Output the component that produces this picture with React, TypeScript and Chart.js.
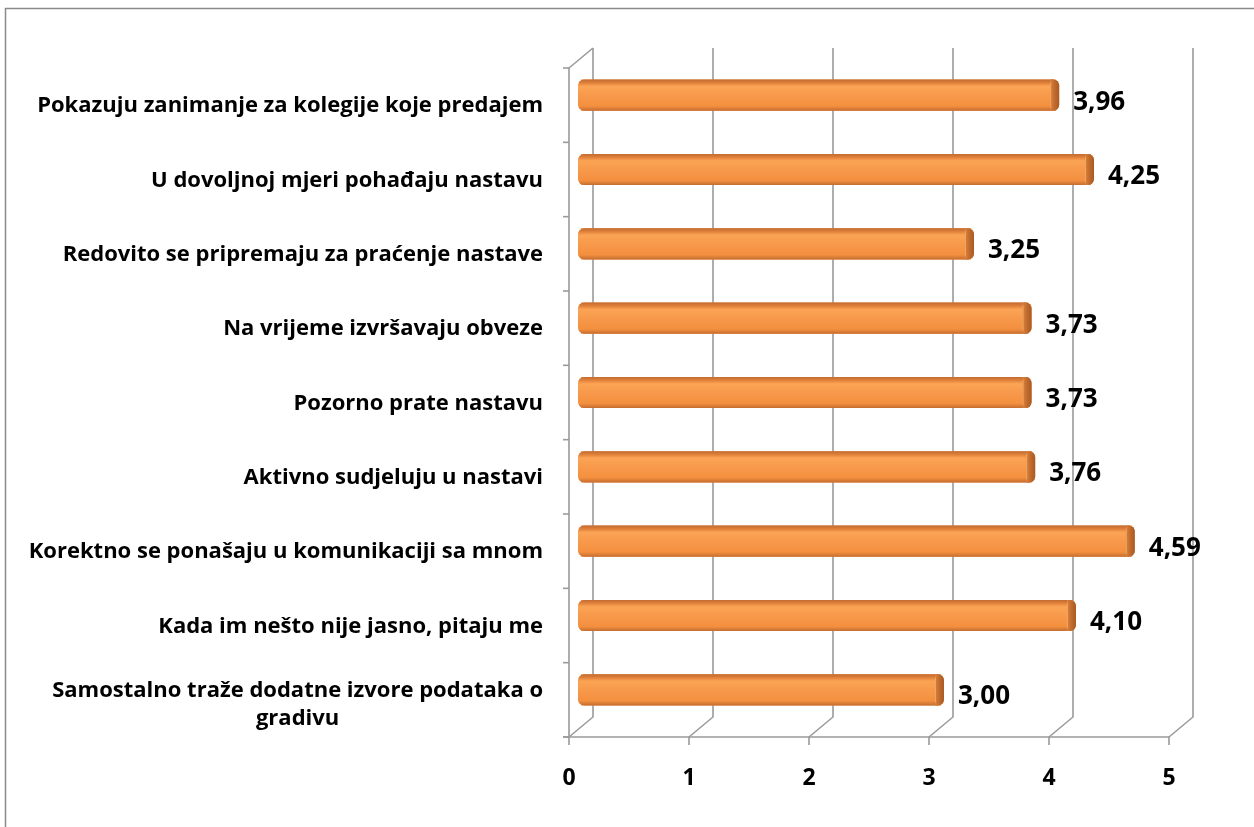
import React, { useEffect, useRef } from 'react';
import { Chart, registerables } from 'chart.js';

Chart.register(...registerables);

const categories: string[][] = [
  ['Pokazuju zanimanje za kolegije koje predajem'],
  ['U dovoljnoj mjeri pohađaju nastavu'],
  ['Redovito se pripremaju za praćenje nastave'],
  ['Na vrijeme izvršavaju obveze'],
  ['Pozorno prate nastavu'],
  ['Aktivno sudjeluju u nastavi'],
  ['Korektno se ponašaju u komunikaciji sa mnom'],
  ['Kada im nešto nije jasno, pitaju me'],
  ['Samostalno traže dodatne izvore podataka o', 'gradivu'],
];

const values: number[] = [3.96, 4.25, 3.25, 3.73, 3.73, 3.76, 4.59, 4.1, 3.0];

const xTicks: number[] = [0, 1, 2, 3, 4, 5];

const W = 1254;
const H = 827;
const DX = 12; // half depth offset (x)
const DY = 10; // half depth offset (y)
const FONT = '"Open Sans", "DejaVu Sans", sans-serif';
const GRID = '#9a9a9a';

const wallPlugin = {
  id: 'walls',
  beforeDatasetsDraw(chart: any) {
    const { ctx, chartArea: a } = chart;
    const xs = chart.scales.x;
    const n = categories.length;
    const backTop = a.top - DY;
    const backBottom = a.bottom - DY;
    const frontTop = a.top + DY;
    const frontBottom = a.bottom + DY;
    const x0 = xs.getPixelForValue(xTicks[0]);
    const xN = xs.getPixelForValue(xTicks[xTicks.length - 1]);

    ctx.save();
    // frame
    ctx.strokeStyle = '#8a8a8a';
    ctx.lineWidth = 1.5;
    ctx.beginPath();
    ctx.moveTo(5.5, H + 2);
    ctx.lineTo(5.5, 8.5);
    ctx.lineTo(W + 2, 8.5);
    ctx.stroke();

    ctx.strokeStyle = GRID;
    ctx.lineWidth = 1.6;
    // back wall gridlines + floor diagonals + front ticks
    xTicks.forEach((v) => {
      const px = xs.getPixelForValue(v);
      ctx.beginPath();
      ctx.moveTo(px + DX, backTop);
      ctx.lineTo(px + DX, backBottom);
      ctx.lineTo(px - DX, frontBottom);
      ctx.lineTo(px - DX, frontBottom + 8);
      ctx.stroke();
    });
    // front baseline
    ctx.beginPath();
    ctx.moveTo(x0 - DX - 6, frontBottom);
    ctx.lineTo(xN - DX, frontBottom);
    ctx.stroke();
    // left wall
    ctx.beginPath();
    ctx.moveTo(x0 + DX, backTop);
    ctx.lineTo(x0 - DX, frontTop);
    ctx.lineTo(x0 - DX, frontBottom);
    ctx.stroke();
    // left ticks
    for (let i = 0; i <= n; i++) {
      const yy = frontTop + (i * (frontBottom - frontTop)) / n;
      ctx.beginPath();
      ctx.moveTo(x0 - DX - 6, yy);
      ctx.lineTo(x0 - DX, yy);
      ctx.stroke();
    }

    // x tick labels
    ctx.fillStyle = '#000';
    ctx.font = `bold 23px ${FONT}`;
    ctx.textAlign = 'center';
    ctx.textBaseline = 'middle';
    xTicks.forEach((v) => {
      const px = xs.getPixelForValue(v) - DX;
      ctx.fillText(String(v), px, frontBottom + 41);
    });

    // category labels
    const ys = chart.scales.y;
    ctx.font = `bold 22px ${FONT}`;
    const rightX = x0 - DX - 26;
    categories.forEach((lines, i) => {
      const cy = ys.getPixelForValue(i) + DY + 1;
      const lh = 28;
      const maxW = Math.max(...lines.map((l) => ctx.measureText(l).width));
      const cx = rightX - maxW / 2;
      const startY = cy - ((lines.length - 1) * lh) / 2;
      ctx.textAlign = 'center';
      lines.forEach((l, j) => {
        ctx.fillText(l, cx, startY + j * lh + (lines.length > 1 ? 4 : 0));
      });
    });
    ctx.restore();
  },
  afterDatasetsDraw(chart: any) {
    const { ctx } = chart;
    const meta = chart.getDatasetMeta(0);
    ctx.save();
    meta.data.forEach((bar: any, i: number) => {
      const left = bar.base - 3;
      const right = bar.x + 3;
      const top = bar.y - bar.height / 2;
      const h = bar.height;
      const r = 6;
      // body
      const g = ctx.createLinearGradient(0, top, 0, top + h);
      g.addColorStop(0, '#c06a32');
      g.addColorStop(0.12, '#e4843c');
      g.addColorStop(0.22, '#fba455');
      g.addColorStop(0.5, '#f8994b');
      g.addColorStop(0.85, '#f3903f');
      g.addColorStop(1, '#c46c30');
      ctx.fillStyle = g;
      ctx.beginPath();
      ctx.roundRect(left, top, right - left, h, r);
      ctx.fill();
      // end cap
      const capW = 9;
      const gc = ctx.createLinearGradient(right - capW, 0, right, 0);
      gc.addColorStop(0, '#d9843f');
      gc.addColorStop(0.5, '#c06a2d');
      gc.addColorStop(1, '#a95a25');
      ctx.fillStyle = gc;
      ctx.beginPath();
      ctx.roundRect(right - capW, top, capW, h, [0, r, r, 0]);
      ctx.fill();
      ctx.strokeStyle = 'rgba(255,190,120,0.6)';
      ctx.lineWidth = 1;
      ctx.beginPath();
      ctx.moveTo(right - capW + 0.5, top + 3);
      ctx.lineTo(right - capW + 0.5, top + h - 3);
      ctx.stroke();

      // data label
      ctx.fillStyle = '#000';
      ctx.font = `bold 26px ${FONT}`;
      ctx.textAlign = 'left';
      ctx.textBaseline = 'middle';
      const txt = values[i].toFixed(2).replace('.', ',');
      ctx.fillText(txt, bar.x + 17, bar.y + 7);
    });
    ctx.restore();
  },
};

export default function App() {
  const ref = useRef<HTMLCanvasElement>(null);
  useEffect(() => {
    document.body.style.margin = '0';
    const canvas = ref.current!;
    const chart = new Chart(canvas, {
      type: 'bar',
      data: {
        labels: categories.map((c) => c.join(' ')),
        datasets: [
          {
            data: values,
            backgroundColor: '#f7964a',
            borderWidth: 0,
            categoryPercentage: 1,
            barPercentage: 0.42,
          },
        ],
      },
      options: {
        indexAxis: 'y',
        responsive: false,
        animation: false,
        devicePixelRatio: 1,
        layout: { padding: { left: 581, right: W - 1181, top: 58, bottom: H - 727 } },
        plugins: { legend: { display: false }, tooltip: { enabled: false } },
        scales: {
          x: { min: 0, max: 5, display: false },
          y: { display: false },
        },
      },
      plugins: [wallPlugin],
    });
    return () => chart.destroy();
  }, []);
  return <canvas ref={ref} width={W} height={H} style={{ display: 'block', width: W, height: H }} />;
}
